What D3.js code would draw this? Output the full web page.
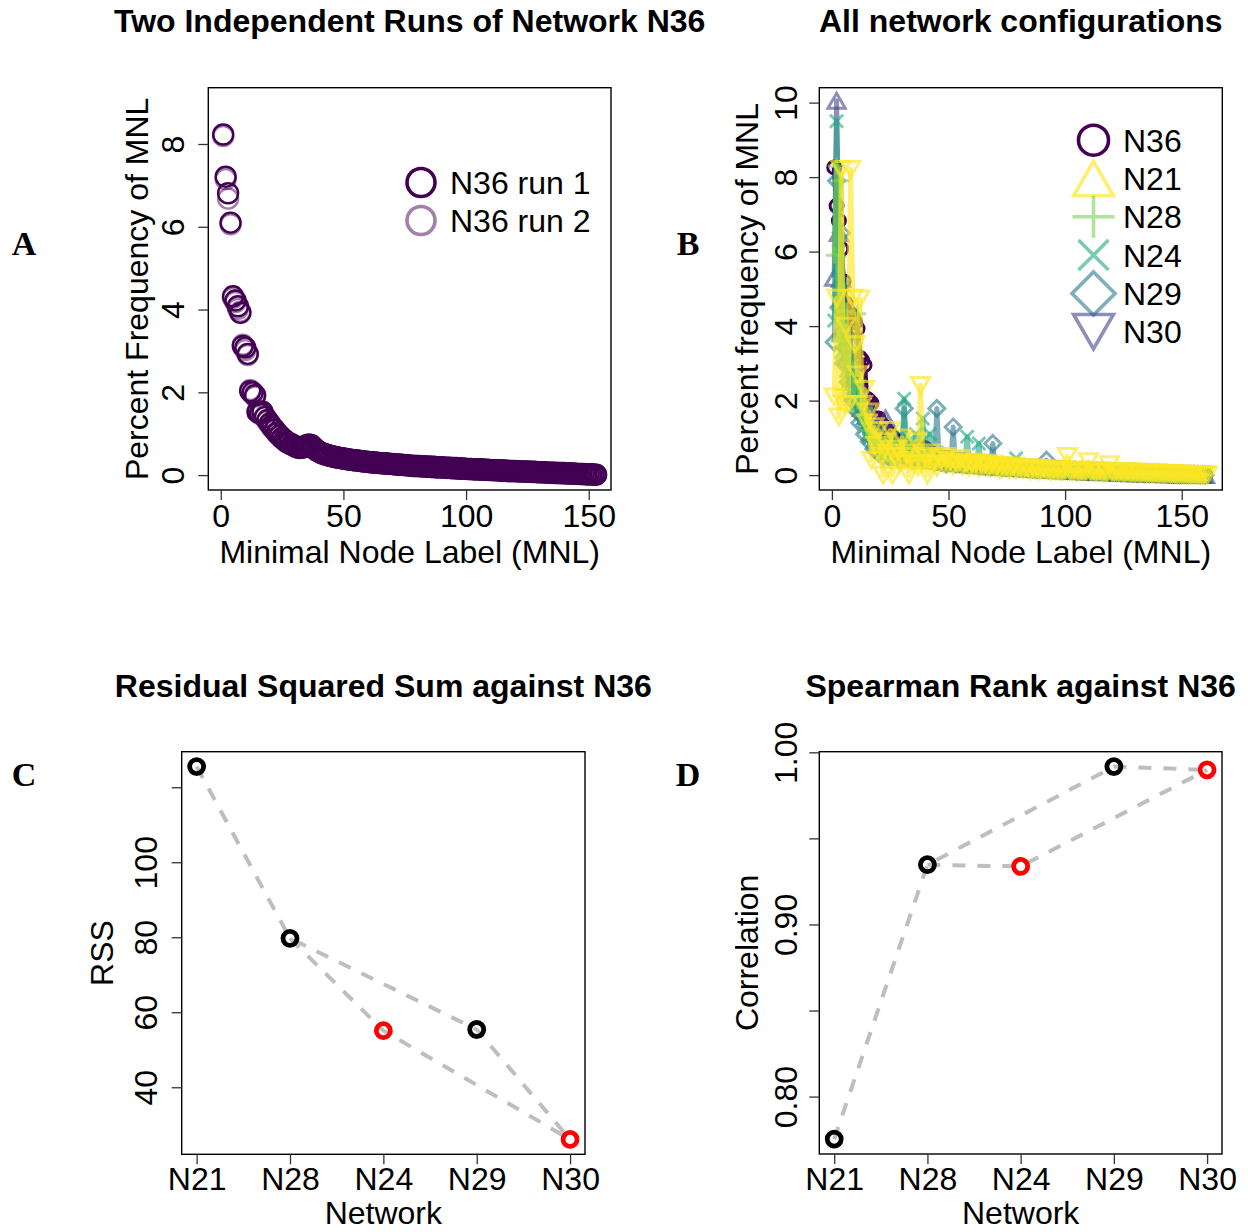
<!DOCTYPE html>
<html><head><meta charset="utf-8">
<script src="https://cdn.jsdelivr.net/npm/d3@7"></script>
<style>body{margin:0;background:#fff}svg{display:block}</style>
</head><body>
<script>
// ---------- DATA ----------
// Panel A: percent frequency per MNL (1..153), two runs of N36
const run1 = [8.23,7.21,6.81,6.10,4.32,4.22,4.08,3.92,3.12,3.08,2.93,2.03,2.00,1.93,1.52,1.50,1.53,1.40,1.33,1.25,
1.16,1.10,1.02,0.96,0.90,0.85,0.80,0.77,0.74,0.71,0.68,0.66,0.66,0.68,0.72,0.74,0.72,0.66,0.60,0.57,
0.53,0.51,0.49,0.47,0.46,0.44,0.43,0.42,0.41,0.40,0.39,0.38,0.37,0.36,0.36,0.35,0.34,0.33,0.33,0.32,
0.31,0.31,0.30,0.30,0.29,0.29,0.28,0.28,0.27,0.27,0.26,0.26,0.25,0.25,0.24,0.24,0.23,0.23,0.22,0.22,
0.22,0.21,0.21,0.21,0.20,0.20,0.20,0.19,0.19,0.19,0.18,0.18,0.18,0.17,0.17,0.17,0.16,0.16,0.16,0.15,
0.15,0.15,0.14,0.14,0.14,0.14,0.13,0.13,0.13,0.12,0.12,0.12,0.12,0.11,0.11,0.11,0.10,0.10,0.10,0.10,
0.09,0.09,0.09,0.09,0.08,0.08,0.08,0.08,0.07,0.07,0.07,0.07,0.06,0.06,0.06,0.06,0.05,0.05,0.05,0.05,
0.04,0.04,0.04,0.04,0.03,0.03,0.03,0.03,0.02,0.02,0.02,0.01,0.01];
const run2 = [8.19,7.15,6.68,6.06,4.28,4.18,4.02,3.95,3.15,3.02,2.90,2.06,1.96,1.90,1.55,1.47,1.50,1.42,1.30,1.22,
1.14,1.08,1.00,0.95,0.88,0.84,0.79,0.76,0.73,0.70,0.67,0.65,0.66,0.69,0.71,0.73,0.71,0.65,0.60,0.56,
0.54,0.52,0.50,0.48,0.46,0.45,0.44,0.42,0.41,0.40,0.39,0.38,0.37,0.36,0.35,0.35,0.34,0.33,0.32,0.32,
0.31,0.30,0.30,0.29,0.29,0.28,0.28,0.27,0.27,0.26,0.26,0.25,0.25,0.24,0.24,0.23,0.23,0.22,0.22,0.22,
0.21,0.21,0.20,0.20,0.20,0.19,0.19,0.19,0.18,0.18,0.18,0.17,0.17,0.17,0.16,0.16,0.16,0.15,0.15,0.15,
0.14,0.14,0.14,0.14,0.13,0.13,0.13,0.12,0.12,0.12,0.12,0.11,0.11,0.11,0.10,0.10,0.10,0.10,0.09,0.09,
0.09,0.09,0.08,0.08,0.08,0.08,0.07,0.07,0.07,0.07,0.06,0.06,0.06,0.06,0.05,0.05,0.05,0.05,0.04,0.04,
0.04,0.04,0.03,0.03,0.03,0.03,0.02,0.02,0.02,0.02,0.01,0.01,0.01];
const runNames = ["N36 run 1","N36 run 2"];

// Panel B: all network configurations
const configNames = ["N36","N21","N28","N24","N29","N30"];
const freqN36 = [8.26,7.23,6.83,6.07,5.20,4.60,4.40,4.32,4.22,4.10,3.93,3.15,3.08,2.95,2.05,2.00,1.93,1.53,1.50,1.52,
1.38,1.33,1.25,1.16,1.10,1.02,0.96,0.90,0.85,0.80,0.77,0.74,0.71,0.68,0.66,0.66,0.68,0.72,0.74,0.72,
0.66,0.60,0.57,0.55,0.53,0.51,0.49,0.47,0.46,0.44,0.43,0.42,0.41,0.40,0.39,0.38,0.37,0.36,0.36,0.35,
0.34,0.33,0.33,0.32,0.31,0.31,0.30,0.30,0.29,0.29,0.28,0.28,0.27,0.27,0.26,0.26,0.25,0.25,0.24,0.24,
0.23,0.23,0.22,0.22,0.22,0.21,0.21,0.21,0.20,0.20,0.20,0.19,0.19,0.19,0.18,0.18,0.18,0.17,0.17,0.17,
0.16,0.16,0.16,0.15,0.15,0.15,0.14,0.14,0.14,0.14,0.13,0.13,0.13,0.12,0.12,0.12,0.12,0.11,0.11,0.11,
0.10,0.10,0.10,0.10,0.09,0.09,0.09,0.09,0.08,0.08,0.08,0.08,0.07,0.07,0.07,0.07,0.06,0.06,0.06,0.06,
0.05,0.05,0.05,0.05,0.04,0.04,0.04,0.04,0.03,0.03,0.03,0.03,0.02,0.02,0.02,0.02,0.01,0.01,0.01,0.01];
const freqN21 = [2.10,4.75,1.56,8.21,1.90,4.00,1.90,8.21,4.75,3.50,2.70,4.73,1.90,2.30,1.40,1.70,0.40,1.30,0.80,1.20,
0.50,0.00,0.90,0.60,1.20,0.00,0.50,0.70,0.30,1.00,0.40,0.60,0.00,0.50,0.30,0.90,0.20,2.41,0.30,0.50,
0.00,0.60,0.30,0.45,0.20,0.50,0.40,0.30,0.50,0.30,0.40,0.25,0.35,0.30,0.45,0.25,0.30,0.35,0.20,0.30,
0.25,0.35,0.20,0.30,0.25,0.30,0.20,0.25,0.30,0.20,0.25,0.15,0.25,0.20,0.25,0.15,0.20,0.25,0.15,0.20,
0.20,0.15,0.20,0.18,0.12,0.20,0.15,0.18,0.12,0.15,0.18,0.12,0.15,0.10,0.15,0.12,0.14,0.10,0.12,0.14,
0.50,0.12,0.10,0.14,0.12,0.10,0.12,0.10,0.12,0.36,0.10,0.12,0.08,0.10,0.12,0.08,0.10,0.08,0.28,0.10,
0.08,0.10,0.08,0.10,0.06,0.08,0.10,0.06,0.08,0.06,0.08,0.06,0.05,0.07,0.05,0.06,0.05,0.04,0.06,0.04,
0.05,0.04,0.03,0.05,0.03,0.04,0.03,0.02,0.03,0.02,0.03,0.02,0.02,0.01,0.02,0.01,0.01,0.01,0.00,0.01,0.00];
const freqN28 = [5.90,8.30,3.60,7.90,2.30,4.40,3.00,3.40,1.90,2.70,4.33,2.00,1.60,1.80,1.20,1.40,1.00,1.10,0.80,0.90,
0.60,0.70,0.90,0.50,0.70,0.40,0.80,0.60,0.50,0.70,0.45,0.60,0.90,0.40,0.55,0.50,0.70,0.40,0.50,0.45,
0.55,0.40,0.50,0.35,0.45,0.40,0.35,0.45,0.30,0.40,0.35,0.30,0.40,0.30,0.35,0.28,0.32,0.30,0.25,0.30,
0.28,0.25,0.30,0.22,0.28,0.25,0.22,0.26,0.20,0.25,0.22,0.20,0.24,0.20,0.22,0.18,0.22,0.20,0.18,0.20,
0.18,0.20,0.16,0.18,0.17,0.15,0.18,0.16,0.15,0.17,0.14,0.16,0.15,0.13,0.15,0.14,0.13,0.14,0.12,0.13,
0.12,0.13,0.12,0.11,0.12,0.11,0.10,0.12,0.10,0.11,0.10,0.09,0.10,0.09,0.10,0.08,0.09,0.08,0.09,0.08,
0.07,0.08,0.07,0.08,0.06,0.07,0.06,0.07,0.06,0.05,0.06,0.05,0.06,0.05,0.04,0.05,0.04,0.05,0.04,0.03,
0.04,0.03,0.04,0.03,0.03,0.02,0.03,0.02,0.03,0.02,0.02,0.01,0.02,0.01,0.01,0.01,0.01,0.00,0.01,0.00];
const freqN24 = [4.15,9.50,6.00,3.30,5.10,2.80,3.80,2.20,2.60,2.14,1.80,2.40,1.50,1.30,1.60,1.00,1.20,0.90,1.10,0.80,
0.60,0.90,0.50,0.80,0.60,1.00,0.50,0.70,0.90,0.60,2.05,0.50,0.80,0.60,0.40,1.10,0.50,0.60,1.52,0.40,
0.50,1.10,0.40,0.45,0.60,0.40,0.50,0.35,0.45,0.40,0.35,0.45,0.30,0.40,0.35,0.30,0.40,1.03,0.30,0.35,
0.30,0.28,0.85,0.30,0.25,0.30,0.28,0.25,0.30,0.22,0.28,0.25,0.22,0.26,0.20,0.24,0.22,0.20,0.45,0.20,
0.20,0.18,0.20,0.17,0.18,0.16,0.18,0.15,0.17,0.16,0.15,0.16,0.14,0.15,0.14,0.13,0.15,0.13,0.14,0.12,
0.13,0.12,0.12,0.11,0.12,0.10,0.11,0.10,0.11,0.10,0.09,0.10,0.09,0.10,0.08,0.09,0.08,0.09,0.08,0.07,
0.08,0.07,0.08,0.06,0.07,0.06,0.07,0.06,0.05,0.06,0.05,0.06,0.05,0.04,0.05,0.04,0.05,0.04,0.03,0.04,
0.03,0.04,0.03,0.03,0.02,0.03,0.02,0.03,0.02,0.02,0.01,0.02,0.01,0.01,0.01,0.01,0.00,0.01,0.00,0.00];
const freqN29 = [3.57,7.90,4.50,6.50,3.00,3.40,2.50,2.90,2.00,2.20,1.70,1.40,1.60,1.10,1.30,0.90,1.00,0.70,0.80,0.60,
0.70,0.50,0.60,0.80,0.45,0.60,0.50,0.70,0.40,0.55,1.79,0.45,0.50,0.60,0.40,0.50,0.45,0.55,0.40,0.50,
0.45,0.40,0.50,0.35,1.79,0.40,0.35,0.45,0.30,0.40,0.35,1.29,0.30,0.35,0.40,0.30,0.35,0.28,0.32,0.30,
0.28,0.30,0.25,0.28,0.26,0.24,0.28,0.22,0.85,0.25,0.22,0.24,0.20,0.23,0.21,0.20,0.22,0.19,0.21,0.18,
0.20,0.18,0.19,0.17,0.18,0.16,0.17,0.15,0.17,0.16,0.15,0.40,0.14,0.15,0.14,0.13,0.14,0.13,0.12,0.13,
0.12,0.12,0.11,0.12,0.10,0.11,0.10,0.11,0.10,0.09,0.10,0.09,0.10,0.08,0.09,0.08,0.09,0.08,0.07,0.08,
0.07,0.08,0.07,0.06,0.07,0.06,0.07,0.06,0.05,0.06,0.05,0.06,0.05,0.04,0.05,0.04,0.05,0.04,0.03,0.04,
0.03,0.04,0.03,0.03,0.02,0.03,0.02,0.02,0.02,0.01,0.02,0.01,0.02,0.01,0.01,0.01,0.01,0.00,0.01,0.00];
const freqN30 = [5.30,10.05,6.50,5.27,4.00,4.60,3.20,3.60,2.60,2.90,2.20,2.40,1.80,2.00,1.60,1.70,1.40,1.50,1.20,1.30,
1.10,1.20,1.52,1.00,0.90,0.95,0.80,0.85,0.70,0.75,0.65,0.70,0.60,0.65,0.55,0.60,0.50,0.55,0.48,0.50,
0.45,0.48,0.42,0.45,0.40,0.42,0.38,0.40,0.36,0.38,0.34,0.36,0.33,0.34,0.32,0.33,0.30,0.32,0.29,0.30,
0.28,0.29,0.27,0.28,0.26,0.27,0.25,0.26,0.24,0.25,0.24,0.23,0.24,0.22,0.23,0.22,0.21,0.22,0.20,0.21,
0.20,0.19,0.20,0.18,0.19,0.18,0.17,0.18,0.17,0.16,0.17,0.16,0.15,0.16,0.15,0.14,0.15,0.14,0.13,0.14,
0.13,0.13,0.12,0.13,0.12,0.11,0.12,0.11,0.10,0.11,0.10,0.10,0.09,0.10,0.09,0.09,0.08,0.09,0.08,0.08,
0.07,0.08,0.07,0.07,0.06,0.07,0.06,0.06,0.05,0.06,0.05,0.05,0.05,0.04,0.05,0.04,0.04,0.03,0.04,0.03,
0.03,0.03,0.02,0.03,0.02,0.02,0.02,0.02,0.01,0.02,0.01,0.01,0.01,0.01,0.01,0.00,0.01,0.00,0.00,0.00];

// Panels C, D
const networks = ["N21","N28","N24","N29","N30"];
const rssValues = [125.5, 79.7, 55.1, 55.4, 26.1];
const spearmanValues = [0.7753, 0.9347, 0.9337, 0.9917, 0.9898];
const highlighted = ["N24","N30"];
const pathOne = ["N21","N28","N29","N30"];
const pathTwo = ["N28","N24","N30"];

// tick labels
const ticksAx = [0,50,100,150], ticksAy = [0,2,4,6,8];
const ticksBx = [0,50,100,150], ticksBy = [0,2,4,6,8,10];
const ticksCy = [40,60,80,100,120], labelsCy = ["40","60","80","100",""];
const ticksDy = [0.80,0.85,0.90,0.95,1.00], labelsDy = ["0.80","","0.90","","1.00"];

// ---------- DRAW ----------
const FONT = "'Liberation Sans', Arial, Helvetica, sans-serif";
const svg = d3.select("body").append("svg").attr("width",1248).attr("height",1232)
  .style("font-family", FONT);

function ext(lo, hi){ const d = hi - lo; return [lo - 0.04*d, hi + 0.04*d]; }

const sym = {
  circle:{draw(c,r){c.moveTo(r,0);c.arc(0,0,r,0,2*Math.PI);}},
  triUp:{draw(c,R){const h=1.5*R,w=0.866*R;c.moveTo(0,-h/2);c.lineTo(w,h/2);c.lineTo(-w,h/2);c.closePath();}},
  triDown:{draw(c,R){const h=1.5*R,w=0.866*R;c.moveTo(0,h/2);c.lineTo(w,-h/2);c.lineTo(-w,-h/2);c.closePath();}},
  plus:{draw(c,r){c.moveTo(-r,0);c.lineTo(r,0);c.moveTo(0,-r);c.lineTo(0,r);}},
  times:{draw(c,r){c.moveTo(-r,-r);c.lineTo(r,r);c.moveTo(-r,r);c.lineTo(r,-r);}},
  diamond:{draw(c,r){c.moveTo(0,-r);c.lineTo(r,0);c.lineTo(0,r);c.lineTo(-r,0);c.closePath();}}
};

function frame(box){
  svg.append("rect").attr("x",box.x0).attr("y",box.y0)
    .attr("width",box.x1-box.x0).attr("height",box.y1-box.y0)
    .attr("fill","none").attr("stroke","#000").attr("stroke-width",1.4);
}
function xAxis(scale, box, ticks, labels, off){
  const a = svg.append("g").attr("transform",`translate(0,${box.y1})`)
    .call(d3.axisBottom(scale).tickValues(ticks).tickSize(10).tickSizeOuter(0)
      .tickFormat((d,i)=>labels ? labels[i] : String(d)));
  a.attr("font-size",null).attr("font-family",null);
  a.select(".domain").remove();
  a.selectAll(".tick line").attr("stroke","#333").attr("stroke-width",1.3);
  a.selectAll(".tick text").attr("y",off).attr("dy",0).attr("font-size",32).attr("fill","#000");
}
function yAxis(scale, box, ticks, labels, off){
  const a = svg.append("g").attr("transform",`translate(${box.x0},0)`)
    .call(d3.axisLeft(scale).tickValues(ticks).tickSize(10).tickSizeOuter(0)
      .tickFormat((d,i)=>labels ? labels[i] : String(d)));
  a.attr("font-size",null).attr("font-family",null);
  a.select(".domain").remove();
  a.selectAll(".tick line").attr("stroke","#333").attr("stroke-width",1.3);
  a.selectAll(".tick text").attr("x",0).attr("dy",0).attr("text-anchor","middle")
    .attr("font-size",32).attr("fill","#000")
    .attr("transform",`translate(${-off},0) rotate(-90)`);
}
function text(x,y,s,opts={}){
  const t = svg.append("text").attr("x",x).attr("y",y).text(s)
    .attr("font-size",opts.size||32).attr("fill","#000")
    .attr("text-anchor",opts.anchor||"middle");
  if(opts.weight) t.attr("font-weight",opts.weight);
  if(opts.family) t.attr("font-family",opts.family);
  return t;
}
function vtext(x,y,s){
  svg.append("text").attr("transform",`translate(${x},${y}) rotate(-90)`)
    .attr("text-anchor","middle").attr("font-size",32).attr("fill","#000").text(s);
}
const SERIF = "'Liberation Serif','Times New Roman',serif";

// ---------- Panel A ----------
const boxA = {x0:208.3, x1:611, y0:87.7, y1:490};
const xA = d3.scaleLinear().domain(ext(1,153)).range([boxA.x0, boxA.x1]);
const yA = d3.scaleLinear().domain(ext(0,9)).range([boxA.y1, boxA.y0]);
svg.append("clipPath").attr("id","clipA").append("rect")
  .attr("x",boxA.x0).attr("y",boxA.y0).attr("width",boxA.x1-boxA.x0).attr("height",boxA.y1-boxA.y0);
const gA = svg.append("g").attr("clip-path","url(#clipA)");
const circleGen = d3.symbol().type(sym.circle);
[[run1,1],[run2,0.5]].forEach(([arr,op])=>{
  gA.append("g").selectAll("path").data(arr).join("path")
    .attr("transform",(d,i)=>`translate(${xA(i+1)},${yA(d)})`)
    .attr("d",circleGen.size(10)())
    .attr("fill","none").attr("stroke","#440154").attr("stroke-opacity",op).attr("stroke-width",2.4);
});
frame(boxA);
xAxis(xA, boxA, ticksAx, null, 37);
yAxis(yA, boxA, ticksAy, null, 24);
text(409.7, 32, "Two Independent Runs of Network N36", {weight:"bold"});
text(409.7, 563, "Minimal Node Label (MNL)");
vtext(148, 288.9, "Percent Frequency of MNL");
runNames.forEach((n,i)=>{
  const cy = 182.5 + i*38;
  svg.append("path").attr("transform",`translate(421,${cy})`).attr("d",d3.symbol().type(sym.circle).size(14)())
    .attr("fill","none").attr("stroke","#440154").attr("stroke-opacity",i===0?1:0.5).attr("stroke-width",3.6);
  text(450, cy+11.5, n, {anchor:"start"});
});
text(24, 255, "A", {family:SERIF, size:34, weight:"bold"});

// ---------- Panel B ----------
const boxB = {x0:819.3, x1:1222.3, y0:87.7, y1:490};
const xB = d3.scaleLinear().domain(ext(1,161)).range([boxB.x0, boxB.x1]);
const yB = d3.scaleLinear().domain(ext(0,10)).range([boxB.y1, boxB.y0]);
svg.append("clipPath").attr("id","clipB").append("rect")
  .attr("x",boxB.x0).attr("y",boxB.y0).attr("width",boxB.x1-boxB.x0).attr("height",boxB.y1-boxB.y0);
const gB = svg.append("g").attr("clip-path","url(#clipB)");
const configs = [
  {name:"N36", data:freqN36, color:"#440154", op:1.0,  plot:sym.circle,  ps:6.5, leg:sym.circle,  ls:15},
  {name:"N21", data:freqN21, color:"#FDE725", op:0.65, plot:sym.triDown, ps:10.5,leg:sym.triUp,   ls:23},
  {name:"N28", data:freqN28, color:"#7AD151", op:0.6,  plot:sym.plus,    ps:8.5, leg:sym.plus,    ls:21},
  {name:"N24", data:freqN24, color:"#22A884", op:0.6,  plot:sym.times,   ps:6.5, leg:sym.times,   ls:15},
  {name:"N29", data:freqN29, color:"#2A788E", op:0.6,  plot:sym.diamond, ps:8,   leg:sym.diamond, ls:21.5},
  {name:"N30", data:freqN30, color:"#414487", op:0.6,  plot:sym.triUp,   ps:10,  leg:sym.triDown, ls:23}
];
const drawOrder = ["N36","N30","N29","N24","N28","N21"];
const lineB = d3.line().x((d,i)=>xB(i+1)).y(d=>yB(d));
drawOrder.forEach(nm=>{
  const c = configs.find(k=>k.name===nm);
  const g = gB.append("g");
  g.append("path").attr("d",lineB(c.data)).attr("fill","none")
    .attr("stroke",c.color).attr("stroke-opacity",c.op).attr("stroke-width",5).attr("stroke-linejoin","round");
  g.selectAll("path.pt").data(c.data).join("path").attr("class","pt")
    .attr("transform",(d,i)=>`translate(${xB(i+1)},${yB(d)})`)
    .attr("d",d3.symbol().type(c.plot).size(c.ps)())
    .attr("fill","none").attr("stroke",c.color).attr("stroke-opacity",c.op).attr("stroke-width",3);
});
frame(boxB);
xAxis(xB, boxB, ticksBx, null, 37);
yAxis(yB, boxB, ticksBy, null, 22);
text(1020.8, 32, "All network configurations", {weight:"bold"});
text(1020.8, 563, "Minimal Node Label (MNL)");
vtext(758, 288.9, "Percent frequency of MNL");
configs.forEach((c,i)=>{
  const cy = 140.2 + i*38.3;
  svg.append("path").attr("transform",`translate(1093.5,${cy})`)
    .attr("d",d3.symbol().type(c.leg).size(c.ls)())
    .attr("fill","none").attr("stroke",c.color).attr("stroke-opacity",c.op).attr("stroke-width",3.6);
  text(1123, cy+11.5, c.name, {anchor:"start"});
});
text(688, 255, "B", {family:SERIF, size:34, weight:"bold"});

// ---------- Panels C & D ----------
function netPanel(box, values, ticks, labels, title, ylabel, letter, letterX, yLabX, tickOff){
  const x = d3.scaleLinear().domain(ext(1,5)).range([box.x0, box.x1]);
  const y = d3.scaleLinear().domain(ext(d3.min(values), d3.max(values))).range([box.y1, box.y0]);
  const byName = n => ({x:x(networks.indexOf(n)+1), y:y(values[networks.indexOf(n)])});
  const ln = d3.line().x(d=>byName(d).x).y(d=>byName(d).y);
  [pathOne, pathTwo].forEach(p=>{
    svg.append("path").attr("d",ln(p)).attr("fill","none").attr("stroke","#BEBEBE")
      .attr("stroke-width",4).attr("stroke-dasharray","13,12");
  });
  svg.append("g").selectAll("path").data(networks).join("path")
    .attr("transform",(n,i)=>`translate(${x(i+1)},${y(values[i])})`)
    .attr("d",d3.symbol().type(sym.circle).size(7)())
    .attr("fill","none").attr("stroke",n=>highlighted.includes(n)?"#FF0000":"#000").attr("stroke-width",4.8);
  frame(box);
  xAxis(x, box, [1,2,3,4,5], networks, 36);
  yAxis(y, box, ticks, labels, tickOff);
  const cx = (box.x0+box.x1)/2;
  text(cx, 697, title, {weight:"bold"});
  text(cx, 1224, "Network");
  vtext(yLabX, (box.y0+box.y1)/2, ylabel);
  text(letterX, 786, letter, {family:SERIF, size:34, weight:"bold"});
}
netPanel({x0:181.7, x1:585, y0:751.7, y1:1154.3}, rssValues, ticksCy, labelsCy,
  "Residual Squared Sum against N36", "RSS", "C", 24, 113, 24.7);
netPanel({x0:819.3, x1:1222, y0:751.7, y1:1154}, spearmanValues, ticksDy, labelsDy,
  "Spearman Rank against N36", "Correlation", "D", 688, 758, 22);
</script>
</body></html>
